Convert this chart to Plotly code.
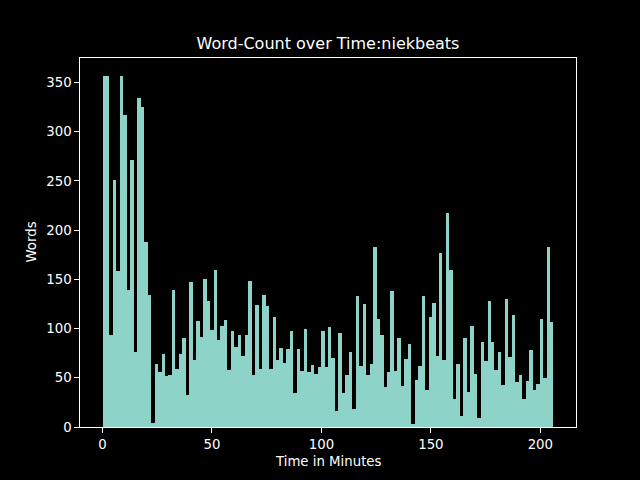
import plotly.graph_objects as go

title = "Word-Count over Time:niekbeats"
x_label = "Time in Minutes"
y_label = "Words"
total_minutes = 206
words = [357, 357, 93, 251, 158, 357, 317, 139, 271, 76, 334, 325, 188, 134, 4, 64,
         56, 74, 52, 53, 139, 59, 74, 90, 33, 147, 68, 108, 91, 150, 128, 99, 160,
         88, 103, 109, 58, 98, 81, 93, 72, 93, 148, 53, 124, 59, 134, 123, 59, 112,
         68, 80, 65, 79, 98, 35, 79, 57, 100, 56, 63, 54, 61, 98, 61, 102, 70,
         16, 96, 35, 53, 76, 18, 133, 62, 125, 53, 64, 183, 110, 93, 41, 56,
         138, 57, 90, 42, 69, 84, 3, 48, 62, 133, 38, 112, 126, 72, 177, 68, 217,
         160, 28, 64, 11, 90, 36, 103, 54, 9, 86, 67, 128, 86, 58, 76, 43, 130,
         71, 114, 46, 53, 28, 47, 78, 38, 44, 110, 50, 183, 107]
x_ticks = [0, 50, 100, 150, 200]
y_ticks = [0, 50, 100, 150, 200, 250, 300, 350]

bin_w = total_minutes / len(words)
centers = [(i + 0.5) * bin_w for i in range(len(words))]

fig = go.Figure(go.Bar(x=centers, y=words, width=bin_w,
                       marker=dict(color="#8dd3c7", line=dict(width=0))))

font = "DejaVu Sans, sans-serif"
W, H = 640, 480
ml, mr, mt, mb = 80, 64, 57.6, 52.8
xmin, xmax = -0.05 * total_minutes, 1.05 * total_minutes
ymax = max(words) * 1.05

fig.update_layout(
    width=W, height=H,
    margin=dict(l=ml, r=mr, t=mt, b=mb, pad=0),
    paper_bgcolor="black", plot_bgcolor="black",
    font=dict(family=font, color="white", size=13.3),
    bargap=0, showlegend=False,
    title=dict(text=title, x=0.5 * (ml + W - mr) / W, xanchor="center",
               y=1 - 43 / H, yanchor="middle", yref="container",
               font=dict(size=16, color="white", family=font)),
)
axis_common = dict(showgrid=False, zeroline=False, showline=True, mirror=True,
                   linecolor="white", linewidth=1, ticks="outside", ticklen=4.7,
                   tickwidth=1, tickcolor="white",
                   tickfont=dict(size=13.3, color="white", family=font))
fig.update_xaxes(range=[xmin, xmax], tickvals=x_ticks,
                 ticktext=[str(t) for t in x_ticks], **axis_common)
fig.update_yaxes(range=[0, ymax], tickvals=y_ticks,
                 ticktext=[str(t) for t in y_ticks], **axis_common)

fig.add_annotation(text=x_label, xref="paper", yref="paper",
                   x=0.5, y=-(462 - (H - mb)) / (H - mt - mb), xanchor="center",
                   yanchor="middle", showarrow=False,
                   font=dict(size=13.3, color="white", family=font))
fig.add_annotation(text=y_label, xref="paper", yref="paper",
                   x=-(ml - 31) / (W - ml - mr), y=0.5, xanchor="center",
                   yanchor="middle", textangle=-90, showarrow=False,
                   font=dict(size=13.3, color="white", family=font))

fig.write_html("out.html", config={"displayModeBar": False},
               post_script="document.body.style.margin='0';"
                           "document.body.style.background='black';")
